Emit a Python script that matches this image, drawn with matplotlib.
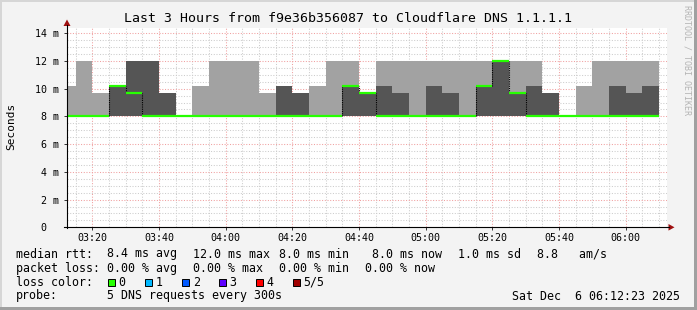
import matplotlib
matplotlib.use("Agg")
import matplotlib.pyplot as plt
import matplotlib.dates as mdates
from matplotlib.ticker import MultipleLocator, FixedLocator, FixedFormatter
from matplotlib.transforms import Affine2D
from matplotlib.patches import Polygon, Rectangle
from matplotlib.lines import Line2D
import pandas as pd

# 5-minute bins, smokeping style (values in ms)
bin_start = pd.date_range("2025-12-06 03:10", periods=36, freq="5min")
smoke_hi = [10.2, 12, 9.7, 10.2, 12, 12, 9.7, 8, 10.2, 12, 12, 12,
            9.7, 10.2, 9.7, 10.2, 12, 12, 9.7, 12, 12, 12, 12, 12,
            12, 12, 12, 12, 12, 9.7, 8, 10.2, 12, 12, 12, 12]
inner_hi = [8, 8, 8, 10.2, 12, 12, 9.7, 8, 8, 8, 8, 8,
            8, 10.2, 9.7, 8, 8, 10.2, 9.7, 10.2, 9.7, 8, 10.2, 9.7,
            8, 10.2, 12, 9.7, 10.2, 9.7, 8, 8, 8, 10.2, 9.7, 10.2]
median = [8, 8, 8, 10.2, 9.7, 8, 8, 8, 8, 8, 8, 8,
          8, 8, 8, 8, 8, 10.2, 9.7, 8, 8, 8, 8, 8,
          8, 10.2, 12, 9.7, 8, 8, 8, 8, 8, 8, 8, 8]
smoke_lo = 8.0

y_ticks = [0, 2, 4, 6, 8, 10, 12, 14]
y_labels = ["0  ", "2 m", "4 m", "6 m", "8 m", "10 m", "12 m", "14 m"]

loss_labels = ["0", "1", "2", "3", "4", "5/5"]
loss_colors = ["#26ff00", "#00b8ff", "#0059ff", "#5e00ff", "#ff0000", "#a00000"]

t_start = pd.Timestamp("2025-12-06 03:12:23")
t_end = pd.Timestamp("2025-12-06 06:12:23")

W, H = 697, 310
mono = "DejaVu Sans Mono"
plt.rcParams["font.family"] = mono

fig = plt.figure(figsize=(W / 100, H / 100), dpi=100, facecolor="#f3f3f3")
px = Affine2D().scale(1 / W, -1 / H).translate(0, 1) + fig.transFigure

x0, x1, ytop, ybot = 67, 667, 27.7, 227.3
ax = fig.add_axes([x0 / W, 1 - ybot / H, (x1 - x0) / W, (ybot - ytop) / H])
ax.set_facecolor("white")
for s in ax.spines.values():
    s.set_visible(False)

x = mdates.date2num(bin_start.to_pydatetime())
w = 5 / 1440
ax.bar(x, [h - smoke_lo for h in smoke_hi], bottom=smoke_lo, width=w,
       align="edge", color="#a2a2a2", linewidth=0, zorder=2)
ax.bar(x, [h - smoke_lo for h in inner_hi], bottom=smoke_lo, width=w,
       align="edge", color="#555555", linewidth=0, zorder=3)
ax.hlines(median, x, x + w, color=loss_colors[0], linewidth=1.6, zorder=5)
# step verticals of the median line
for i in range(1, len(median)):
    if median[i] != median[i - 1]:
        ax.vlines(x[i], min(median[i], median[i - 1]), max(median[i], median[i - 1]),
                  color="black", linewidth=0.8, linestyles=(0, (1, 1)), zorder=4)

ax.set_xlim(mdates.date2num(t_start), mdates.date2num(t_end))
ax.set_ylim(0, 14.4)

ax.xaxis.set_major_locator(mdates.MinuteLocator(byminute=[0, 20, 40]))
ax.xaxis.set_minor_locator(mdates.MinuteLocator(byminute=range(0, 60, 5)))
ax.xaxis.set_major_formatter(mdates.DateFormatter("%H:%M"))
ax.yaxis.set_major_locator(FixedLocator(y_ticks))
ax.yaxis.set_major_formatter(FixedFormatter(y_labels))
ax.yaxis.set_minor_locator(MultipleLocator(0.5))

ax.set_axisbelow(True)
ax.grid(which="minor", color="#cccccc", linewidth=0.75, linestyle=(0, (1, 1.6)))
ax.grid(which="major", color="#f0a0a0", linewidth=0.75, linestyle=(0, (1, 1.6)))
ax.tick_params(which="major", length=2.2, width=0.7, color="#333333",
               labelsize=7.2, pad=2)
ax.tick_params(axis="y", which="major", pad=3.5)
ax.tick_params(which="minor", length=0)

# axes with arrows
fig.add_artist(Line2D([67, 67], [228, 25], transform=px, color="black", lw=0.8))
fig.add_artist(Line2D([64, 669], [227.3, 227.3], transform=px, color="black", lw=0.8))
fig.add_artist(Polygon([[67, 19.5], [63.5, 26], [70.5, 26]], closed=True,
                       transform=px, color="#a01010", lw=0))
fig.add_artist(Polygon([[674.5, 227.3], [668.5, 224], [668.5, 230.6]], closed=True,
                       transform=px, color="#a01010", lw=0))

# frame
fig.add_artist(Rectangle((0, 0), W, 2, transform=px, color="#d6d6d6", lw=0))
fig.add_artist(Rectangle((0, 0), 2, H, transform=px, color="#d6d6d6", lw=0))
fig.add_artist(Rectangle((0, H - 3), W, 3, transform=px, color="#a0a0a0", lw=0))
fig.add_artist(Rectangle((W - 3, 0), 3, H, transform=px, color="#a0a0a0", lw=0))

fig.text(348, 19, "Last 3 Hours from f9e36b356087 to Cloudflare DNS 1.1.1.1",
         transform=px, ha="center", va="center", fontsize=9.5)
fig.text(11, 126, "Seconds", transform=px, ha="center", va="center",
         rotation=90, fontsize=8)
fig.text(687, 60, "RRDTOOL / TOBI OETIKER", transform=px, ha="center", va="center",
         rotation=270, fontsize=6, color="#b4b4b4")

fs = 8.4
rows = [
    (254, [(16, "median rtt:"), (107.3, "8.4 ms avg"), (193.3, "12.0 ms max"),
           (279.3, "8.0 ms min"), (372.3, "8.0 ms now"), (458.3, "1.0 ms sd"),
           (537.3, "8.8   am/s")]),
    (268.3, [(16, "packet loss:"), (107.3, "0.00 % avg"), (193.3, "0.00 % max"),
             (279.3, "0.00 % min"), (365, "0.00 % now")]),
    (282.3, [(16, "loss color:")]),
    (296, [(16, "probe:"), (107.3, "5 DNS requests every 300s")]),
]
for yy, items in rows:
    for xx, s in items:
        fig.text(xx, yy, s, transform=px, ha="left", va="center", fontsize=fs)

for i, (lab, col) in enumerate(zip(loss_labels, loss_colors)):
    sx = 108.3 + i * 37.0
    fig.add_artist(Rectangle((sx, 278.8), 7, 7, transform=px, facecolor=col,
                             edgecolor="black", lw=0.7))
    fig.text(sx + 10.4, 282.3, lab, transform=px, ha="left", va="center", fontsize=fs)

fig.text(680, 296, "Sat Dec  6 06:12:23 2025", transform=px, ha="right",
         va="center", fontsize=fs)

fig.savefig("out.png", dpi=100, facecolor=fig.get_facecolor())
